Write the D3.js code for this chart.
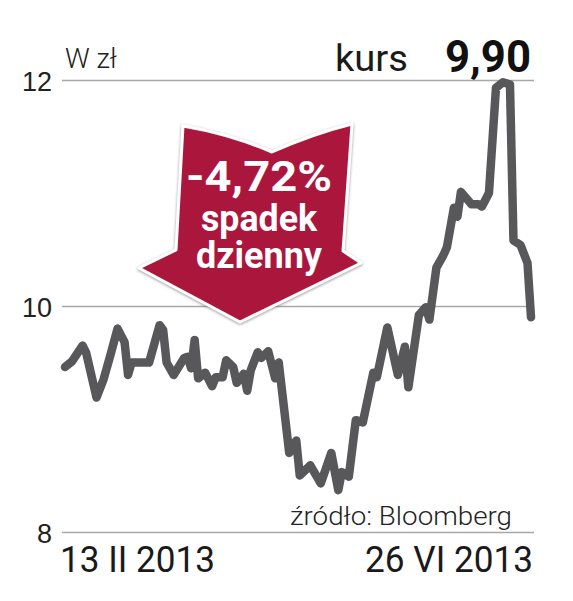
<!DOCTYPE html>
<html>
<head>
<meta charset="utf-8">
<script src="https://cdn.jsdelivr.net/npm/d3@7"></script>
<style>
  body { margin: 0; background: #fff; }
  svg { display: block; font-family: Roboto, "Open Sans", sans-serif; }
</style>
</head>
<body>
<div id="chart"></div>
<script>
// daily close, zł
var dates = [
  "2013-02-13", "2013-02-15", "2013-02-18", "2013-02-19", "2013-02-22", "2013-02-24",
  "2013-02-26", "2013-02-28", "2013-03-02", "2013-03-03", "2013-03-04", "2013-03-09",
  "2013-03-12", "2013-03-13", "2013-03-14", "2013-03-16", "2013-03-19", "2013-03-20",
  "2013-03-21", "2013-03-22", "2013-03-23", "2013-03-25", "2013-03-27", "2013-03-28",
  "2013-03-30", "2013-03-31", "2013-04-02", "2013-04-03", "2013-04-05", "2013-04-06",
  "2013-04-07", "2013-04-09", "2013-04-10", "2013-04-12", "2013-04-14", "2013-04-15",
  "2013-04-18", "2013-04-20", "2013-04-21", "2013-04-24", "2013-04-27", "2013-04-30",
  "2013-05-02", "2013-05-03", "2013-05-05", "2013-05-07", "2013-05-09", "2013-05-12",
  "2013-05-13", "2013-05-16", "2013-05-19", "2013-05-21", "2013-05-22", "2013-05-25",
  "2013-05-27", "2013-05-28", "2013-05-30", "2013-06-01", "2013-06-02", "2013-06-04",
  "2013-06-05", "2013-06-06", "2013-06-09", "2013-06-11", "2013-06-12", "2013-06-14",
  "2013-06-16", "2013-06-18", "2013-06-20", "2013-06-21", "2013-06-23", "2013-06-25",
  "2013-06-26"
];

var prices = [
  9.46, 9.51, 9.65, 9.59, 9.19, 9.35,
  9.57, 9.80, 9.68, 9.39, 9.50, 9.50,
  9.83, 9.79, 9.50, 9.39, 9.54, 9.55,
  9.45, 9.70, 9.36, 9.41, 9.29, 9.37,
  9.37, 9.52, 9.46, 9.32, 9.40, 9.25,
  9.43, 9.59, 9.54, 9.60, 9.36, 9.50,
  8.70, 8.81, 8.50, 8.59, 8.43, 8.70,
  8.37, 8.53, 8.49, 8.99, 8.97, 9.41,
  9.37, 9.81, 9.39, 9.64, 9.28, 9.92,
  9.99, 9.88, 10.34, 10.45, 10.52, 10.87,
  10.79, 11.01, 10.90, 10.90, 10.88, 11.00,
  11.93, 11.98, 11.96, 10.58, 10.54, 10.38,
  9.90
];

var yTicks = [8, 10, 12];
var dateLabels = ["13 II 2013", "26 VI 2013"];
var unitLabel = "W zł";
var lastLabel = "kurs";
var lastValue = "9,90";
var changeLines = ["-4,72%", "spadek", "dzienny"];
var sourceLabel = "źródło: Bloomberg";

var W = 573, H = 601;

var parse = d3.timeParse("%Y-%m-%d");
var data = dates.map(function (d, i) {
    return { date: parse(d), value: prices[i] };
});

var x = d3.scaleTime()
    .domain(d3.extent(data, function (d) { return d.date; }))
    .range([65, 531]);

var y = d3.scaleLinear()
    .domain([8, 12])
    .range([532, 80]);

var svg = d3.select("#chart").append("svg")
    .attr("width", W)
    .attr("height", H);

var defs = svg.append("defs");
var shadow = defs.append("filter")
    .attr("id", "shadow")
    .attr("x", "-20%").attr("y", "-20%")
    .attr("width", "140%").attr("height", "140%");
shadow.append("feDropShadow")
    .attr("dx", 0).attr("dy", 1)
    .attr("stdDeviation", 1.6)
    .attr("flood-color", "#666")
    .attr("flood-opacity", 0.7);

// gridlines + y labels
var yAxis = d3.axisLeft(y)
    .tickValues(yTicks)
    .tickSize(-(534 - 62))
    .tickPadding(10)
    .tickFormat(d3.format("d"));

var gy = svg.append("g")
    .attr("transform", "translate(62,0)")
    .call(yAxis);
gy.select(".domain").remove();
gy.selectAll(".tick line")
    .attr("stroke", "#a8a8a8")
    .attr("stroke-width", 1.5);
gy.selectAll(".tick text")
    .attr("x", -10)
    .attr("dy", 10)
    .attr("fill", "#222")
    .style("font-size", "27px")
    .style("font-weight", 300);

// price line
var line = d3.line()
    .x(function (d) { return x(d.date); })
    .y(function (d) { return y(d.value); });

svg.append("path")
    .datum(data)
    .attr("fill", "none")
    .attr("stroke", "#58585a")
    .attr("stroke-width", 8.5)
    .attr("stroke-linejoin", "round")
    .attr("stroke-linecap", "round")
    .attr("d", line);

// header
svg.append("text")
    .attr("x", 65).attr("y", 68)
    .attr("fill", "#222")
    .style("font-size", "28px")
    .style("font-weight", 300)
    .attr("textLength", 52)
    .attr("lengthAdjust", "spacingAndGlyphs")
    .text(unitLabel);

svg.append("text")
    .attr("x", 335).attr("y", 71)
    .attr("fill", "#1a1a1a")
    .style("font-size", "37px")
    .style("font-weight", 400)
    .attr("textLength", 73)
    .attr("lengthAdjust", "spacingAndGlyphs")
    .text(lastLabel);

svg.append("text")
    .attr("x", 445).attr("y", 72)
    .attr("fill", "#111")
    .style("font-size", "44px")
    .style("font-weight", 700)
    .attr("textLength", 86)
    .attr("lengthAdjust", "spacingAndGlyphs")
    .text(lastValue);

// daily change arrow
var arrow = svg.append("g");
arrow.append("path")
    .attr("d", "M183,126 Q230,134 272,152 Q312,134 352,124 L343,251 L361,263 L240,322 L139,268 L176,250 Z")
    .attr("fill", "#ab193c")
    .attr("stroke", "#fff")
    .attr("stroke-width", 3)
    .attr("stroke-linejoin", "round")
    .attr("filter", "url(#shadow)");

var arrowText = [
    { t: changeLines[0], y: 191, size: 42, len: 146 },
    { t: changeLines[1], y: 231, size: 36, len: 116 },
    { t: changeLines[2], y: 268, size: 36, len: 126 }
];
arrow.selectAll("text.big")
    .data(arrowText)
    .enter().append("text")
    .attr("class", "big")
    .attr("x", 259)
    .attr("y", function (d) { return d.y; })
    .attr("text-anchor", "middle")
    .attr("fill", "#fff")
    .style("font-size", function (d) { return d.size + "px"; })
    .style("font-weight", 700)
    .attr("textLength", function (d) { return d.len; })
    .attr("lengthAdjust", "spacingAndGlyphs")
    .text(function (d) { return d.t; });

// source
svg.append("text")
    .attr("x", 512).attr("y", 525)
    .attr("text-anchor", "end")
    .attr("fill", "#222")
    .style("font-size", "26px")
    .style("font-weight", 300)
    .attr("textLength", 222)
    .attr("lengthAdjust", "spacingAndGlyphs")
    .text(sourceLabel);

// date labels at both ends
var ends = [data[0].date, data[data.length - 1].date];
svg.selectAll("text.date")
    .data(dateLabels)
    .enter().append("text")
    .attr("class", "date")
    .attr("x", function (d, i) { return i === 0 ? x(ends[0]) - 5 : x(ends[1]) + 2; })
    .attr("y", 572)
    .attr("text-anchor", function (d, i) { return i === 0 ? "start" : "end"; })
    .attr("fill", "#1a1a1a")
    .style("font-size", "36px")
    .style("font-weight", 400)
    .attr("textLength", function (d, i) { return i === 0 ? 155 : 168; })
    .attr("lengthAdjust", "spacingAndGlyphs")
    .text(function (d) { return d; });
</script>
</body>
</html>
